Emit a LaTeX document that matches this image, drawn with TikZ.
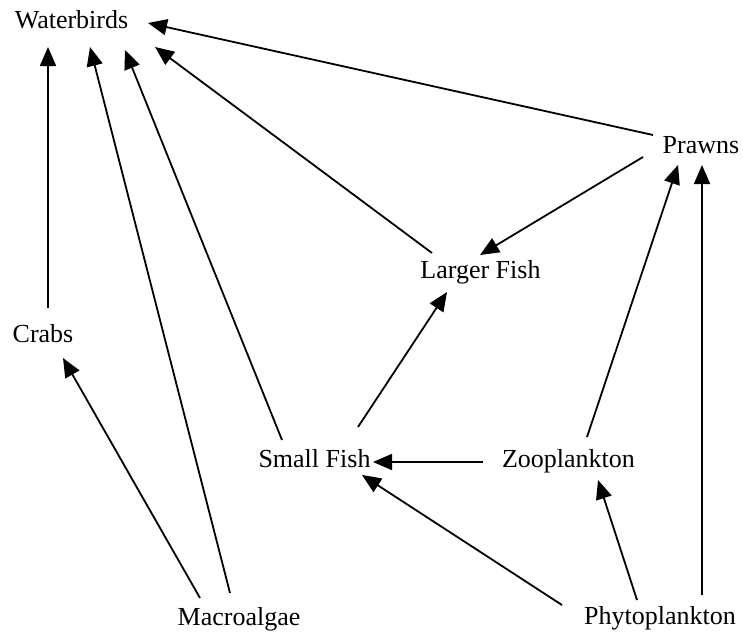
\documentclass[tikz,border=0pt]{standalone}
\usepackage{fontspec}
\setmainfont{Liberation Serif}
\usetikzlibrary{arrows.meta}
\begin{document}
\begin{tikzpicture}[x=1pt,y=-1pt,
  lbl/.style={anchor=base,inner sep=0pt,font=\fontsize{26}{30}\selectfont},
  arr/.style={line width=1.8pt,-{Triangle[length=19pt,width=16pt]}}]
\useasboundingbox[fill=white] (0,0) rectangle (743,634);
\node[lbl] (wb) at (71.5,29) {Waterbirds};
\node[lbl] (cr) at (43,342) {Crabs};
\node[lbl] (lf) at (480.5,278) {Larger Fish};
\node[lbl] (pr) at (701,153) {Prawns};
\node[lbl] (sf) at (314.5,467) {Small Fish};
\node[lbl] (zo) at (568.5,467) {Zooplankton};
\node[lbl] (ma) at (239,625) {Macroalgae};
\node[lbl] (ph) at (660,624) {Phytoplankton};
% connectors
\draw[arr] ([shift={(5,-34)}]cr.base) -- ([shift={(-23.5,18)}]wb.base);
\draw[arr] ([shift={(-39,-27)}]ma.base) -- ([shift={(20,16)}]cr.base);
\draw[arr] ([shift={(-9,-32)}]ma.base) -- ([shift={(18.5,18)}]wb.base);
\draw[arr] ([shift={(-32.5,-27)}]sf.base) -- ([shift={(53.5,21)}]wb.base);
\draw[arr] ([shift={(-48.5,-25)}]lf.base) -- ([shift={(83.5,18)}]wb.base);
\draw[arr] ([shift={(-48,-18)}]pr.base) -- ([shift={(76.5,-6)}]wb.base);
\draw[arr] ([shift={(-58,4)}]pr.base) -- ([shift={(-0.5,-23)}]lf.base);
\draw[arr] ([shift={(43.5,-40)}]sf.base) -- ([shift={(-33.5,14)}]lf.base);
\draw[arr] ([shift={(-85.5,-5)}]zo.base) -- ([shift={(58.5,-5)}]sf.base);
\draw[arr] ([shift={(18.5,-30)}]zo.base) -- ([shift={(-23,12)}]pr.base);
\draw[arr] ([shift={(-98,-19)}]ph.base) -- ([shift={(47.5,8)}]sf.base);
\draw[arr] ([shift={(-23,-24)}]ph.base) -- ([shift={(29.5,13)}]zo.base);
\draw[arr] ([shift={(42,-29)}]ph.base) -- ([shift={(1,12)}]pr.base);
\end{tikzpicture}
\end{document}
